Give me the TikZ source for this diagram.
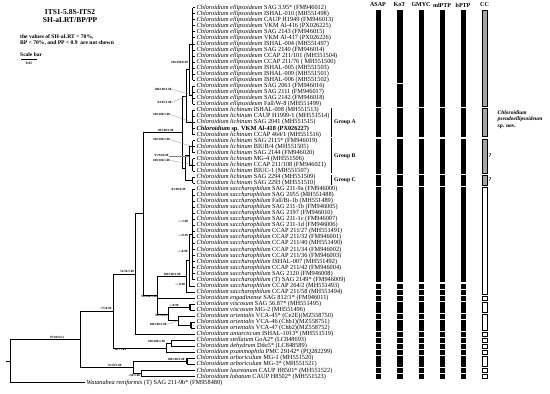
\documentclass[tikz,border=0pt]{standalone}
\usepackage{fontspec}
\setmainfont{Liberation Serif}
\pgfmathdeclarefunction{ry}{1}{\pgfmathparse{7.5+(#1-1)*6.05}}
\newcommand\treeV[3]{\draw[br] ({#1},{#2}) -- ({#1},{#3});}
\newcommand\treeH[3]{\draw[br] ({#2},{#1}) -- ({#3},{#1});}
\newcommand\combV[3]{\draw[br,line width=1.3pt] ({#1},{#2}) -- ({#1},{#3});}
\newcommand\tipsfrom[3]{\foreach \rr in {#2,...,#3}{\draw[br] ({#1},{ry(\rr)}) -- (195,{ry(\rr)});}}
\newcommand\mytaxon[3]{\node[taxon] (t#1) at (196.5,{ry(#1)}) {\textit{Chloroidium #2} #3};}
\newcommand\barcol[4]{\foreach \barA/\barB in {#4}{\draw[#2] ({#1-#3},{max(ry(\barA)-1.9,10.5)}) rectangle ({#1+#3},{ry(\barB)+1.9});}}
\begin{document}
\begin{tikzpicture}[x=1pt,y=-1pt,
  br/.style={line width=0.55pt,black},
  taxon/.style={anchor=west,inner sep=0pt,font=\fontsize{6.3}{6.3}\selectfont},
  supp/.style={inner sep=0.3pt,font=\fontsize{3.2}{3.2}\selectfont\bfseries},
  lead/.style={gray,line width=0.25pt},
  blk/.style={fill=black},
  ccg/.style={fill=gray!70,draw=black,line width=0.4pt},
  ccw/.style={fill=white,draw=black,line width=0.4pt},
  hdr/.style={inner sep=0pt,font=\fontsize{6}{6}\selectfont\bfseries},
  grplab/.style={anchor=west,inner sep=0pt,font=\fontsize{5.7}{6}\selectfont\bfseries},
  grp/.style={line width=0.8pt,black}]
\fill[white] (0,0) rectangle (550,394);
\useasboundingbox (0,0) rectangle (550,394);
% ---------- node heights
\pgfmathsetmacro\yEa{(ry(1)+ry(13))/2}
\pgfmathsetmacro\yEb{(ry(14)+ry(17))/2}
\pgfmathsetmacro\yEo{(\yEa+\yEb)/2}
\pgfmathsetmacro\yGA{(ry(18)+ry(22))/2}
\pgfmathsetmacro\yEA{(\yEo+\yGA)/2}
\pgfmathsetmacro\yGBa{(ry(23)+ry(25))/2}
\pgfmathsetmacro\yGBb{(ry(26)+ry(28))/2}
\pgfmathsetmacro\yGB{(\yGBa+\yGBb)/2}
\pgfmathsetmacro\yGC{(ry(29)+ry(30))/2}
\pgfmathsetmacro\yBC{(\yGB+\yGC)/2}
\pgfmathsetmacro\yEL{(\yEA+\yBC)/2}
\pgfmathsetmacro\yCa{(ry(31)+ry(46))/2}
\pgfmathsetmacro\yLa{(\yCa+ry(47))/2}
\pgfmathsetmacro\yLb{(\yLa+ry(48))/2}
\pgfmathsetmacro\yV{(ry(50)+ry(51))/2}
\pgfmathsetmacro\yChb{(ry(53)+ry(54))/2}
\pgfmathsetmacro\yORI{(ry(52)+\yChb)/2}
\pgfmathsetmacro\yVO{(\yV+\yORI)/2}
\pgfmathsetmacro\yX{(\yLb+\yVO)/2}
\pgfmathsetmacro\yNf{(\yEL+\yX)/2}
\pgfmathsetmacro\yNe{(\yNf+ry(55))/2}
\pgfmathsetmacro\ySD{(ry(56)+ry(57))/2}
\pgfmathsetmacro\yNg{(\ySD+ry(58))/2}
\pgfmathsetmacro\yNd{(\yNe+\yNg)/2}
\pgfmathsetmacro\yAR{(ry(59)+ry(60))/2}
\pgfmathsetmacro\yLL{(ry(61)+ry(62))/2}
\pgfmathsetmacro\yNc{(\yAR+\yLL)/2}
\pgfmathsetmacro\yNb{(\yNd+\yNc)/2}
\pgfmathsetmacro\yRoot{(\yNb+ry(63))/2}
% ---------- tree
\combV{192.5}{ry(1)}{ry(13)}
\combV{192.5}{ry(14)}{ry(17)}
\tipsfrom{192.5}{1}{17}
\treeV{189}{\yEa}{\yEb}\treeH{\yEa}{189}{192.5}\treeH{\yEb}{189}{192.5}
\treeV{186}{\yEo}{\yGA}\treeH{\yEo}{186}{189}\treeH{\yGA}{186}{192.5}
\combV{192.5}{ry(18)}{ry(22)}\tipsfrom{192.5}{18}{22}
\combV{192.5}{ry(23)}{ry(25)}\combV{192.5}{ry(26)}{ry(28)}\tipsfrom{192.5}{23}{28}
\treeV{189}{\yGBa}{\yGBb}\treeH{\yGBa}{189}{192.5}\treeH{\yGBb}{189}{192.5}
\combV{192.5}{ry(29)}{ry(30)}\tipsfrom{192.5}{29}{30}
\treeV{185}{\yGB}{\yGC}\treeH{\yGB}{185}{189}\treeH{\yGC}{185}{192.5}
\treeV{182}{\yEA}{\yBC}\treeH{\yEA}{182}{186}\treeH{\yBC}{182}{185}
\treeV{143}{\yEL}{\yX}\treeH{\yEL}{143}{182}\treeH{\yX}{143}{157}
\treeV{157}{\yLb}{\yVO}\treeH{\yLb}{157}{186}\treeH{ry(49)}{157}{195}\treeH{\yVO}{157}{168}
\treeV{186}{\yLa}{ry(48)}\treeH{\yLa}{186}{189}\treeH{ry(48)}{186}{195}
\treeV{189}{\yCa}{ry(47)}\treeH{\yCa}{189}{192.5}\treeH{ry(47)}{189}{195}
\combV{192.5}{ry(31)}{ry(46)}\tipsfrom{192.5}{31}{46}
\treeV{168}{\yV}{\yORI}\treeH{\yV}{168}{190}\treeH{\yORI}{168}{178}
\combV{190}{ry(50)}{ry(51)}\tipsfrom{190}{50}{51}
\treeV{178}{ry(52)}{\yChb}\treeH{ry(52)}{178}{195}\treeH{\yChb}{178}{191}
\combV{191}{ry(53)}{ry(54)}\tipsfrom{191}{53}{54}
\treeV{135}{\yNf}{ry(55)}\treeH{\yNf}{135}{143}\treeH{ry(55)}{135}{195}
\treeV{113}{\yNe}{\yNg}\treeH{\yNe}{113}{135}\treeH{\yNg}{113}{166}
\treeV{166}{\ySD}{ry(58)}\treeH{\ySD}{166}{171}\treeH{ry(58)}{166}{195}
\treeV{171}{ry(56)}{ry(57)}\tipsfrom{171}{56}{57}
\treeV{80}{\yNd}{\yNc}\treeH{\yNd}{80}{113}\treeH{\yNc}{80}{133}
\treeV{133}{\yAR}{\yLL}\treeH{\yAR}{133}{187}\treeH{\yLL}{133}{141}
\combV{187}{ry(59)}{ry(60)}\tipsfrom{187}{59}{60}
\treeV{141}{ry(61)}{ry(62)}\tipsfrom{141}{61}{62}
\treeV{10}{\yNb}{ry(63)}\treeH{\yNb}{10}{80}\treeH{ry(63)}{10}{85}\treeH{\yRoot}{6}{10}
% ---------- support values
\node[supp,anchor=east] (s1) at (188.5,{\yEo-7}) {100/100/0.99};
\node[supp,anchor=east] (s2) at (172,{\yEb-6}) {100/100/1.00};
\node[supp,anchor=east] (s3) at (172,{\yEA+6.5}) {84/93/1.00};
\node[supp,anchor=east] (s4) at (170.5,{\yGA-8}) {100/100/1.00};
\node[supp,anchor=south east] (s5) at (174,{\yEL-0.3}) {99/100/1.00};
\node[supp,anchor=east] (s6) at (170.5,{\yGBa-7}) {100/100/1.00};
\node[supp,anchor=east] (s7) at (169,{\yGB}) {95/94/0.98};
\node[supp,anchor=east] (s8) at (170.5,{\yGBb-4.5}) {100/100/1.00};
\node[supp,anchor=east] (s9) at (186,{ry(31)}) {85/98/0.99};
\node[supp,anchor=east] (s10) at (188.5,{ry(36.3)}) {-/-/1.00};
\node[supp,anchor=east] (s11) at (188.5,{ry(38.7)}) {-/-/0.99};
\node[supp,anchor=east] (s12) at (188,{ry(41.3)}) {-/-/0.98};
\node[supp,anchor=south] (s13) at (172,{\yLb-0.3}) {100/100/1.00};
\node[supp,anchor=east] (s14) at (185.5,{ry(46.7)}) {-/-/0.98};
\node[supp,anchor=north east] (s15) at (157.5,{\yX+0.3}) {96/100/1.00};
\node[supp,anchor=south west] (s16) at (168.5,{\yV-0.3}) {-/-/0.99};
\node[supp,anchor=north east] (s17) at (167.5,{\yVO+0.3}) {96/-/0.99};
\node[supp,anchor=east] (s18) at (167,{ry(53.4)}) {100/100/1.00};
\node[supp,anchor=south east] (s19) at (134.5,{\yNe-0.3}) {52/56/1.00};
\node[supp,anchor=south east] (s20) at (112,{\yNd-0.3}) {-/75/0.99};
\node[supp,anchor=south east] (s21) at (165.5,{\ySD-0.3}) {100/100/1.00};
\node[supp,anchor=north west] (s22) at (114,{\yNg+0.3}) {98/-/1.00};
\node[supp,anchor=south] (s23) at (57,{\yNb-0.3}) {97/84/0.53};
\node[supp,anchor=south east] (s24) at (122,{\yNc-0.3}) {76/70/1.00};
\node[supp,anchor=south east] (s25) at (185,{\yAR-0.3}) {100/100/1.00};
\node[supp,anchor=north east] (s26) at (140.5,{\yLL+0.3}) {-/96/1.00};
\draw[lead] (s2.east) -- (192.5,\yEb);
\draw[lead] (s3.east) -- (186,\yEA);
\draw[lead] (s4.east) -- (192.5,\yGA);
\draw[lead] (s6.east) -- (192.5,\yGBa);
\draw[lead] (s7.east) -- (189,\yGB);
\draw[lead] (s8.east) -- (192.5,\yGBb);
\draw[lead] (s18.east) -- (178,\yORI);
% ---------- taxa
\mytaxon{1}{ellipsoideum}{SAG 3.95* (FM946012)}
\mytaxon{2}{ellipsoideum}{ISHAL-010 (MH551498)}
\mytaxon{3}{ellipsoideum}{CAUP H1949 (FM946013)}
\mytaxon{4}{ellipsoideum}{VKM Al-416 (PX026225)}
\mytaxon{5}{ellipsoideum}{SAG 2143 (FM946015)}
\mytaxon{6}{ellipsoideum}{VKM Al-417 (PX026226)}
\mytaxon{7}{ellipsoideum}{ISHAL-004 (MH551497)}
\mytaxon{8}{ellipsoideum}{SAG 2140 (FM946014)}
\mytaxon{9}{ellipsoideum}{CCAP 211/101 (MH551504)}
\mytaxon{10}{ellipsoideum}{CCAP 211/76 ( MH551500)}
\mytaxon{11}{ellipsoideum}{ISHAL-005 (MH551503)}
\mytaxon{12}{ellipsoideum}{ISHAL-009 (MH551501)}
\mytaxon{13}{ellipsoideum}{ISHAL-006 (MH551502)}
\mytaxon{14}{ellipsoideum}{SAG 2061 (FM946016)}
\mytaxon{15}{ellipsoideum}{SAG 2111 (FM946017)}
\mytaxon{16}{ellipsoideum}{SAG 2142 (FM946018)}
\mytaxon{17}{ellipsoideum}{Fall/W-8 (MH551499)}
\mytaxon{18}{lichinum}{ISHAL-008 (MH551513)}
\mytaxon{19}{lichinum}{CAUP H1999-1 (MH551514)}
\mytaxon{20}{lichinum}{SAG 2041 (MH551515)}
\node[taxon,font=\fontsize{6.3}{6.3}\selectfont\bfseries] (t21) at (196.5,{ry(21)}) {\textit{Chloroidium} sp. VKM Al-418 (PX026227)};
\mytaxon{22}{lichinum}{CCAP 464/1 (MH551516)}
\mytaxon{23}{lichinum}{SAG 2115* (FM946019)}
\mytaxon{24}{lichinum}{BIUB/4 (MH551505)}
\mytaxon{25}{lichinum}{SAG 2144 (FM946020)}
\mytaxon{26}{lichinum}{MG-4 (MH551506)}
\mytaxon{27}{lichinum}{CCAP 211/108 (FM946021)}
\mytaxon{28}{lichinum}{BIUC-1 (MH551507)}
\mytaxon{29}{lichinum}{SAG 2294 (MH551509)}
\mytaxon{30}{lichinum}{SAG 2293 (MH551510)}
\mytaxon{31}{saccharophilum}{SAG 211-9a (FM946000)}
\mytaxon{32}{saccharophilum}{SAG 2055 (MH551488)}
\mytaxon{33}{saccharophilum}{Fall/Bi-1b (MH551489)}
\mytaxon{34}{saccharophilum}{SAG 211-1b (FM946005)}
\mytaxon{35}{saccharophilum}{SAG 2197 (FM946010)}
\mytaxon{36}{saccharophilum}{SAG 211-1c (FM946007)}
\mytaxon{37}{saccharophilum}{SAG 211-1d (FM946006)}
\mytaxon{38}{saccharophilum}{CCAP 211/27 (MH551491)}
\mytaxon{39}{saccharophilum}{CCAP 211/32 (FM946001)}
\mytaxon{40}{saccharophilum}{CCAP 211/40 (MH551490)}
\mytaxon{41}{saccharophilum}{CCAP 211/34 (FM946002)}
\mytaxon{42}{saccharophilum}{CCAP 211/36 (FM946003)}
\mytaxon{43}{saccharophilum}{ISHAL-007 (MH551492)}
\mytaxon{44}{saccharophilum}{CCAP 211/42 (FM946004)}
\mytaxon{45}{saccharophilum}{SAG 2120 (FM946008)}
\mytaxon{46}{saccharophilum}{(T) SAG 2149* (FM946009)}
\mytaxon{47}{saccharophilum}{CCAP 264/2 (MH551493)}
\mytaxon{48}{saccharophilum}{CCAP 211/58 (MH551494)}
\mytaxon{49}{engadinense}{SAG 812/1* (FM946011)}
\mytaxon{50}{viscosum}{SAG 56.87* (MH551495)}
\mytaxon{51}{viscosum}{MG-2 (MH551496)}
\mytaxon{52}{orientalis}{VCA-45* (Ce2E)(MZ558750)}
\mytaxon{53}{orientalis}{VCA-46 (Chb1)(MZ558751)}
\mytaxon{54}{orientalis}{VCA-47 (Chb2)(MZ558752)}
\mytaxon{55}{antarcticum}{ISHAL-1013* (MH551519)}
\mytaxon{56}{stellatum}{GoA2* (LC848693)}
\mytaxon{57}{dehydrum}{Ddo5* (LC848589)}
\mytaxon{58}{psammophila}{PMC 29142* (PQ282299)}
\mytaxon{59}{arboriculum}{MG-1 (MH551520)}
\mytaxon{60}{arboriculum}{MG-3* (MH551521)}
\mytaxon{61}{laureanum}{CAUP H8501* (MH551522)}
\mytaxon{62}{lobatum}{CAUP H8502* (MH551523)}
\node[taxon] (t63) at (86.5,{ry(63)}) {\textit{Watanabea reniformis} (T) SAG 211-9b* (FM958480)};
% ---------- groups
\draw[grp] (331,{ry(18)-2.3}) -- (331,{ry(22)+2.3});
\draw[grp] (331,{ry(23)-2.3}) -- (331,{ry(28)+2.3});
\draw[grp] (331,{ry(29)-2.3}) -- (331,{ry(30)+2.3});
\node[grplab] (gA) at (334,{ry(20)}) {Group A};
\node[grplab] (gB) at (334,{(ry(23)+ry(28))/2}) {Group B};
\node[grplab] (gC) at (334,{(ry(29)+ry(30))/2}) {Group C};
% ---------- delimitation bars
\node[hdr] (hA) at (378,5) {ASAP};
\node[hdr] (hK) at (399.5,5) {KoT};
\node[hdr] (hG) at (421,5) {GMYC};
\node[hdr] (hM) at (442,5) {mlPTP};
\node[hdr] (hB) at (463,5) {bPTP};
\node[hdr] (hC) at (484.5,5) {CC};
\barcol{378}{blk}{2.3}{1/17,18/22,23/28,29/30,31/46,47/47,48/48,49/49,50/51,52/52,53/54,55/55,56/56,57/57,58/58,59/60,61/61,62/62}
\barcol{399.5}{blk}{2.3}{1/13,14/17,18/22,23/28,29/30,31/46,47/47,48/48,49/49,50/51,52/52,53/54,55/55,56/56,57/57,58/58,59/60,61/61,62/62}
\barcol{421}{blk}{2.3}{1/17,18/22,23/28,29/30,31/46,47/47,48/48,49/49,50/51,52/52,53/54,55/55,56/56,57/57,58/58,59/60,61/61,62/62}
\barcol{442}{blk}{2.3}{1/17,18/22,23/28,29/30,31/46,47/47,48/48,49/49,50/51,52/52,53/54,55/55,56/56,57/57,58/58,59/60,61/61,62/62}
\barcol{463}{blk}{2.3}{1/17,18/22,23/28,29/30,31/46,47/47,48/48,49/49,50/51,52/52,53/54,55/55,56/56,57/57,58/58,59/60,61/61,62/62}
\barcol{484.5}{ccg}{2.4}{1/17,18/22,23/28,29/30}
\barcol{484.5}{ccw}{2.4}{31/48,49/49,50/51,52/54,55/55,56/56,57/57,58/58,59/60,61/61,62/62}
\node[grplab] (q1) at (488.5,{(ry(23)+ry(28))/2}) {?};
\node[grplab] (q2) at (488.5,{(ry(29)+ry(30))/2}) {?};
\node[anchor=west,inner sep=0pt,align=left,font=\fontsize{5.5}{6.5}\selectfont\bfseries] (nov) at (497.5,{ry(20)-3}) {\textit{Chloroidium}\\\textit{pseudoellipsoideum}\\sp. nov.};
% ---------- legend
\node[inner sep=0pt,align=center,font=\fontsize{7.5}{8.3}\selectfont\bfseries] (title) at (70,16) {ITS1-5.8S-ITS2\\SH-aLRT/BP/PP};
\node[anchor=west,inner sep=0pt,align=left,font=\fontsize{5.6}{6}\selectfont\bfseries] (note) at (20,40) {the values of SH-aLRT < 70\%,\\BP < 70\%, and PP < 0.9~~are not shown};
\node[anchor=west,inner sep=0pt,font=\fontsize{5.5}{6}\selectfont\bfseries] (sb) at (20,55) {Scale bar};
\coordinate (sbl) at (21,59.3);
\coordinate (sbr) at (37,59.3);
\draw[line width=0.6pt] (sbl) -- (sbr);
\node[inner sep=0pt,font=\fontsize{3.5}{4}\selectfont\bfseries] (sbv) at (29,63) {0.05};
\end{tikzpicture}
\end{document}
